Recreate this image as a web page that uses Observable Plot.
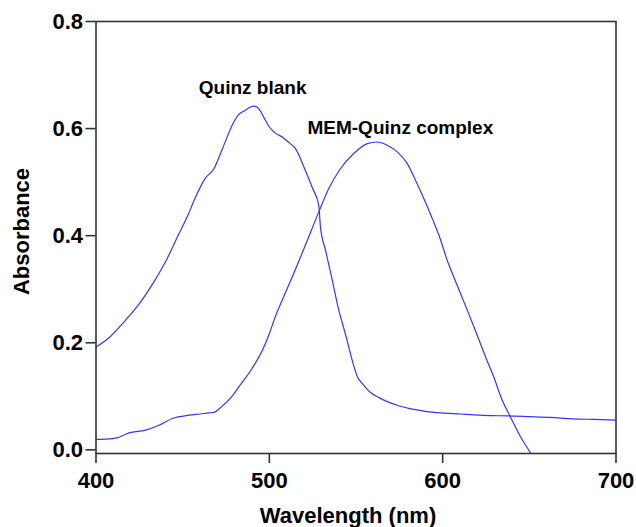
<!DOCTYPE html>
<html>
<head>
<meta charset="utf-8">
<script src="https://cdn.jsdelivr.net/npm/d3@7"></script>
<script src="https://cdn.jsdelivr.net/npm/@observablehq/plot@0.6"></script>
<style>
  html, body { margin: 0; padding: 0; background: #fff; }
  #chart svg { display: block; }
</style>
</head>
<body>
<div id="chart"></div>
<script>
// Quinz blank spectrum
const blankWl  = [400, 407, 417, 425, 434, 441, 447, 453, 457, 463, 468, 473, 479, 482, 486, 489, 491, 493, 495, 497, 500, 503, 508, 512, 515, 520, 525, 528.5, 529.5, 532.4, 536.3, 540, 544, 548, 551, 553.6, 558, 563, 568, 575, 581, 590, 599, 610, 618, 628, 637, 650, 662, 675, 687, 700];
const blankAbs = [0.192, 0.208, 0.242, 0.273, 0.317, 0.357, 0.398, 0.438, 0.469, 0.507, 0.525, 0.563, 0.609, 0.625, 0.634, 0.640, 0.642, 0.640, 0.632, 0.620, 0.603, 0.593, 0.583, 0.572, 0.563, 0.528, 0.488, 0.457, 0.416, 0.373, 0.317, 0.262, 0.215, 0.165, 0.135, 0.124, 0.108, 0.098, 0.090, 0.082, 0.077, 0.072, 0.069, 0.067, 0.0654, 0.064, 0.0635, 0.062, 0.0605, 0.058, 0.0568, 0.0555];

// MEM-Quinz complex spectrum
const complexWl  = [400, 405, 412, 419, 428.6, 436.3, 444, 453.6, 460, 465, 468, 472.8, 478, 482.4, 490, 496, 500, 503.6, 507.4, 514, 522, 528.5, 534.3, 541, 548.7, 556.5, 562, 568, 573.8, 579.5, 584.3, 590, 594, 598.8, 602.6, 606.4, 614.2, 618, 624.7, 629.5, 634.3, 639, 645, 650.7];
const complexAbs = [0.0194, 0.020, 0.0224, 0.0317, 0.0368, 0.046, 0.0586, 0.0648, 0.067, 0.069, 0.070, 0.0816, 0.098, 0.1176, 0.152, 0.186, 0.217, 0.250, 0.2795, 0.329, 0.392, 0.444, 0.488, 0.525, 0.5535, 0.572, 0.575, 0.569, 0.5565, 0.535, 0.5036, 0.463, 0.432, 0.392, 0.354, 0.323, 0.261, 0.230, 0.174, 0.136, 0.093, 0.062, 0.024, -0.0056];

const xTicks = [400, 500, 600, 700];
const yTicks = [0.0, 0.2, 0.4, 0.6, 0.8];

const labelNames = ["Quinz blank", "MEM-Quinz complex"];
const labelWl    = [459.3, 522.0];
const labelAbs   = [0.6755, 0.602];

const xTitle = "Wavelength (nm)";
const yTitle = "Absorbance";

const blank = blankWl.map((w, i) => ({wl: w, abs: blankAbs[i]}));
const complex = complexWl.map((w, i) => ({wl: w, abs: complexAbs[i]}));
const labels = labelNames.map((t, i) => ({text: t, wl: labelWl[i], abs: labelAbs[i]}));

const FONT = "'Liberation Sans', Arial, sans-serif";
const LINE = "#3636ff";

const chart = Plot.plot({
  width: 636,
  height: 527,
  marginTop: 21,
  marginBottom: 74,
  marginLeft: 95.5,
  marginRight: 20.5,
  style: {fontFamily: FONT, background: "#fff", color: "#000"},
  x: {domain: [400, 700]},
  y: {domain: [-0.0068, 0.8]},
  marks: [
    Plot.line(blank, {x: "wl", y: "abs", stroke: LINE, strokeWidth: 1.2, curve: "monotone-x", clip: true}),
    Plot.line(complex, {x: "wl", y: "abs", stroke: LINE, strokeWidth: 1.2, curve: "monotone-x", clip: true}),
    Plot.frame({stroke: "#333", strokeWidth: 1.6}),
    Plot.axisX({ticks: xTicks, tickSize: 10, tickPadding: 9, label: null, fontSize: 22, fontWeight: "bold", stroke: "#333", strokeWidth: 1.6, tickFormat: d3.format("d")}),
    Plot.axisY({ticks: yTicks, tickSize: 10, tickPadding: 3, label: null, fontSize: 22, fontWeight: "bold", stroke: "#333", strokeWidth: 1.6, tickFormat: d3.format(".1f")}),
    Plot.text(labels, {x: "wl", y: "abs", text: "text", textAnchor: "start", lineAnchor: "middle", fontSize: 19, fontWeight: "bold", fill: "#000"}),
    Plot.text([xTitle], {frameAnchor: "bottom", textAnchor: "middle", lineAnchor: "middle", dy: 62, dx: -8, fontSize: 22, fontWeight: "bold", fill: "#000"}),
    Plot.text([yTitle], {frameAnchor: "left", textAnchor: "middle", lineAnchor: "middle", rotate: -90, dx: -74.5, dy: -6, fontSize: 22, fontWeight: "bold", fill: "#000"})
  ]
});
document.getElementById("chart").appendChild(chart);
</script>
</body>
</html>
